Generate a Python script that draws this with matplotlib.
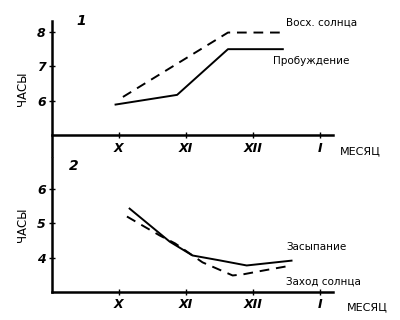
import matplotlib.pyplot as plt

# Месяцы: 9 = IX, 10 = X, 11 = XI, 12 = XII, 13 = I
month_ticks = [10, 11, 12, 13]
month_labels = ['X', 'XI', 'XII', 'I']

# 1 - утро
sunrise_x = [10.06, 11.63, 12.45]
sunrise_y = [6.11, 7.97, 7.97]
wake_x = [9.95, 10.87, 11.63, 12.45]
wake_y = [5.89, 6.17, 7.49, 7.49]

# 2 - вечер
sleep_x = [10.16, 10.76, 11.10, 11.50, 11.91, 12.58]
sleep_y = [5.42, 4.46, 4.06, 3.92, 3.77, 3.91]
sunset_x = [10.12, 10.61, 10.84, 11.25, 11.70, 11.85, 12.15, 12.58]
sunset_y = [5.19, 4.64, 4.41, 3.86, 3.48, 3.51, 3.62, 3.77]

top_yticks = [6, 7, 8]
bot_yticks = [4, 5, 6]

fig = plt.figure(figsize=(4, 3.2), dpi=100)
lw = 1.4
tick_font = dict(fontsize=9, fontstyle='italic', fontweight='bold')
txt_font = dict(fontsize=7.5)


def style_axes(ax, base):
    for s in ['top', 'right']:
        ax.spines[s].set_visible(False)
    ax.spines['bottom'].set_position(('data', base))
    for s in ['left', 'bottom']:
        ax.spines[s].set_linewidth(1.8)
    ax.tick_params(direction='inout', length=5, width=1, pad=2)
    ax.set_xticks(month_ticks)
    ax.set_xticklabels(month_labels, **tick_font)


# верхний график
ax1 = fig.add_axes([0.13, 0.578 - 0.066, 0.7025, 0.356 + 0.066])
ax1.set_xlim(9, 13.2)
ax1.set_ylim(4.4, 8.3)
style_axes(ax1, 5)
ax1.set_yticks(top_yticks)
ax1.set_yticklabels([str(v) for v in top_yticks], **tick_font)
ax1.plot(sunrise_x, sunrise_y, 'k', lw=lw, dashes=(5, 3.5))
ax1.plot(wake_x, wake_y, 'k', lw=lw)
ax1.text(12.5, 8.25, 'Восх. солнца', ha='left', va='center', **txt_font)
ax1.text(12.3, 7.15, 'Пробуждение', ha='left', va='center', **txt_font)
ax1.text(9.37, 8.2, '1', fontsize=10, fontstyle='italic', fontweight='bold')
ax1.text(13.3, 4.55, 'МЕСЯЦ', fontsize=8, ha='left', va='center')
ax1.set_ylabel('ЧАСЫ', fontsize=8.5, labelpad=6)

# нижний график
ax2 = fig.add_axes([0.13, 0.0875, 0.7025, 0.42])
ax2.set_xlim(9, 13.2)
ax2.set_ylim(3, 6.9)
style_axes(ax2, 3)
ax2.set_yticks(bot_yticks)
ax2.set_yticklabels([str(v) for v in bot_yticks], **tick_font)
ax2.plot(sleep_x, sleep_y, 'k', lw=lw)
ax2.plot(sunset_x, sunset_y, 'k', lw=lw, dashes=(5, 3.5))
ax2.text(12.5, 4.3, 'Засыпание', ha='left', va='center', **txt_font)
ax2.text(12.5, 3.3, 'Заход солнца', ha='left', va='center', **txt_font)
ax2.text(9.25, 6.55, '2', fontsize=10, fontstyle='italic', fontweight='bold')
ax2.text(13.4, 2.55, 'МЕСЯЦ', fontsize=8, ha='left', va='center')
ax2.set_ylabel('ЧАСЫ', fontsize=8.5, labelpad=6)

fig.savefig('out.png', dpi=100)
